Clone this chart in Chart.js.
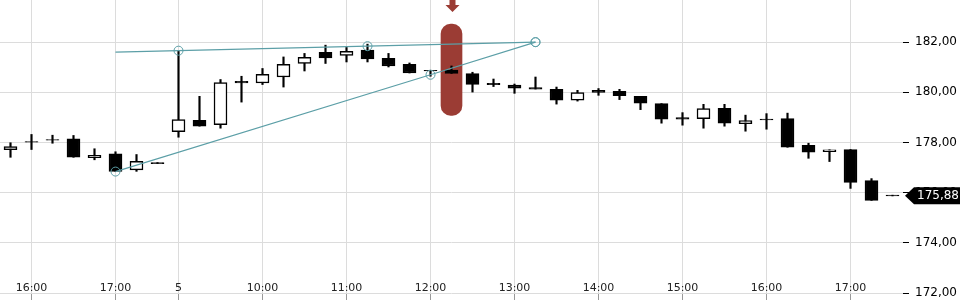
<html>
<head>
<script src="https://cdn.jsdelivr.net/npm/chart.js"></script>
<title>Chart</title>
<style>
  body { margin: 0; background: #fff; }
  #wrap { width: 960px; height: 300px; }
</style>
</head>
<body>
<div id="wrap"><canvas id="myChart"></canvas></div>
<script>
// 15 minute candles, day 4 15:45 .. day 5 17:30
const times = ['15:45','16:00','16:15','16:30','16:45','17:00','17:15','17:30',
  '09:00','09:15','09:30','09:45','10:00','10:15','10:30','10:45','11:00','11:15','11:30','11:45',
  '12:00','12:15','12:30','12:45','13:00','13:15','13:30','13:45','14:00','14:15','14:30','14:45',
  '15:00','15:15','15:30','15:45','16:00','16:15','16:30','16:45','17:00','17:15','17:30'];
const tickLabels = ['','16:00','','','','17:00','','',
  '5','','','','10:00','','','','11:00','','','',
  '12:00','','','','13:00','','','','14:00','','','',
  '15:00','','','','16:00','','','','17:00','',''];

const open  = [177.71,178.04,178.12,178.15,177.39,177.55,176.91,177.20,178.43,178.88,178.71,180.44,180.37,180.61,181.15,181.59,181.47,181.68,181.35,181.12,180.88,180.89,180.75,180.36,180.29,180.19,180.12,179.69,180.08,180.04,179.84,179.55,178.99,178.95,179.36,178.75,178.93,178.95,177.89,177.63,177.72,176.48,175.90];
const high  = [177.99,178.32,178.29,178.28,177.75,177.63,177.52,177.20,181.65,179.84,180.51,180.64,180.95,181.41,181.55,181.88,181.79,181.92,181.55,181.17,180.88,181.05,180.80,180.53,180.33,180.61,180.21,180.08,180.15,180.12,179.84,179.55,179.19,179.52,179.52,179.09,179.15,179.17,177.97,177.71,177.72,176.56,175.90];
const low   = [177.41,177.72,177.97,177.41,177.31,176.85,176.85,177.16,178.21,178.65,178.57,179.61,180.31,180.21,180.85,181.15,181.21,181.21,181.01,180.77,180.64,180.75,180.01,180.23,179.96,180.13,179.53,179.65,179.88,179.71,179.31,178.77,178.69,178.57,178.65,178.45,178.53,177.81,177.37,177.24,176.17,175.69,175.87];
const close = [177.84,178.01,178.09,177.41,177.49,176.85,177.25,177.16,178.91,178.65,180.39,180.37,180.72,181.12,181.39,181.37,181.63,181.33,181.05,180.77,180.85,180.75,180.31,180.30,180.17,180.13,179.69,179.99,180.00,179.87,179.57,178.93,178.93,179.35,178.77,178.87,178.90,177.81,177.61,177.71,176.41,175.69,175.87];
const lastPrice = 175.88;

// drawing tools
const trendTop    = {5: 181.60, 8: 181.66, 17: 181.84, 25: 182.00};
const trendBottom = {5: 176.84, 20: 180.70, 25: 182.00};
const highlightIndex = 21;
const highlightRange = [179.08, 182.72];

const teal = '#5c9fa7';

function sparse(obj) {
  return times.map((t, i) => (obj[i] !== undefined ? obj[i] : null));
}
function circles(obj, skip) {
  return times.map((t, i) => (obj[i] !== undefined && i !== skip ? 4.5 : 0));
}

const wicks = times.map((t, i) => [low[i], high[i]]);
const bodies = times.map((t, i) => [open[i], close[i]]);
const bodyFill = times.map((t, i) => (close[i] > open[i] ? '#ffffff' : '#000000'));
const highlight = times.map((t, i) => (i === highlightIndex ? highlightRange : null));

const decorations = {
  id: 'decorations',
  afterDatasetsDraw(chart) {
    const ctx = chart.ctx;
    const x = chart.scales.x.getPixelForValue(highlightIndex) + 1;
    // arrow above highlight
    ctx.save();
    ctx.fillStyle = '#9b3c34';
    ctx.beginPath();
    ctx.moveTo(x - 3, 0);
    ctx.lineTo(x + 3, 0);
    ctx.lineTo(x + 3, 5);
    ctx.lineTo(x + 7, 5);
    ctx.lineTo(x, 12);
    ctx.lineTo(x - 7, 5);
    ctx.lineTo(x - 3, 5);
    ctx.closePath();
    ctx.fill();
    ctx.restore();
  },
  afterDraw(chart) {
    const ctx = chart.ctx;
    const y = chart.scales.y.getPixelForValue(lastPrice);
    const left = chart.chartArea.right + 2;
    ctx.save();
    ctx.fillStyle = '#000';
    ctx.beginPath();
    ctx.moveTo(left, y);
    ctx.lineTo(left + 9, y - 8.5);
    ctx.lineTo(960, y - 8.5);
    ctx.lineTo(960, y + 8.5);
    ctx.lineTo(left + 9, y + 8.5);
    ctx.closePath();
    ctx.fill();
    ctx.fillStyle = '#fff';
    ctx.font = '12px "DejaVu Sans"';
    ctx.textBaseline = 'middle';
    ctx.fillText(lastPrice.toFixed(2).replace('.', ','), left + 12, y + 0.5);
    ctx.restore();
  }
};

Chart.defaults.font.family = '"DejaVu Sans", sans-serif';

const data = {
  labels: times,
  datasets: [
    {
      type: 'bar',
      data: highlight,
      backgroundColor: '#9b3c34',
      barThickness: 21,
      borderRadius: 10,
      borderSkipped: false,
      grouped: false,
      order: 4
    },
    {
      type: 'bar',
      data: wicks,
      backgroundColor: '#000',
      barThickness: 1.5,
      grouped: false,
      order: 3
    },
    {
      type: 'bar',
      data: bodies,
      backgroundColor: bodyFill,
      borderColor: '#000',
      borderWidth: 1.5,
      borderSkipped: false,
      barThickness: 13,
      grouped: false,
      order: 2
    },
    {
      type: 'line',
      data: sparse(trendTop),
      borderColor: teal,
      borderWidth: 1.2,
      spanGaps: true,
      pointRadius: circles(trendTop, 5),
      pointBorderColor: teal,
      pointBackgroundColor: 'rgba(0,0,0,0)',
      pointBorderWidth: 1,
      order: 1
    },
    {
      type: 'line',
      data: sparse(trendBottom),
      borderColor: teal,
      borderWidth: 1.2,
      spanGaps: true,
      pointRadius: circles(trendBottom, -1),
      pointBorderColor: teal,
      pointBackgroundColor: 'rgba(0,0,0,0)',
      pointBorderWidth: 1,
      order: 1
    }
  ]
};

const config = {
  type: 'bar',
  data: data,
  options: {
    responsive: true,
    maintainAspectRatio: false,
    animation: false,
    layout: { padding: 0 },
    plugins: { legend: { display: false }, tooltip: { enabled: false } },
    scales: {
      x: {
        type: 'category',
        offset: true,
        border: { display: false },
        grid: {
          offset: false,
          color: (c) => (tickLabels[c.index] ? '#dcdcdc' : 'rgba(0,0,0,0)'),
          tickColor: (c) => (tickLabels[c.index] ? '#999' : 'rgba(0,0,0,0)'),
          tickLength: 7
        },
        ticks: {
          autoSkip: false,
          maxRotation: 0,
          minRotation: 0,
          mirror: true,
          padding: -8,
          color: '#222',
          font: { size: 11, lineHeight: '26px' },
          callback: (v, i) => tickLabels[i]
        },
        afterFit: (s) => { s.height = 7; s.paddingLeft = 0; s.paddingRight = 0; }
      },
      y: {
        position: 'right',
        min: 172,
        max: 183.68,
        border: { display: false },
        grid: { color: '#dcdcdc', tickColor: '#000', tickLength: 6 },
        ticks: {
          stepSize: 2,
          includeBounds: false,
          padding: 6,
          color: '#000',
          font: { size: 12 },
          callback: (v) => v.toFixed(2).replace('.', ',')
        },
        afterFit: (s) => { s.width = 57; s.paddingTop = 0; s.paddingBottom = 0; }
      }
    }
  },
  plugins: [decorations]
};

const myChart = new Chart(document.getElementById('myChart'), config);
</script>
</body>
</html>
